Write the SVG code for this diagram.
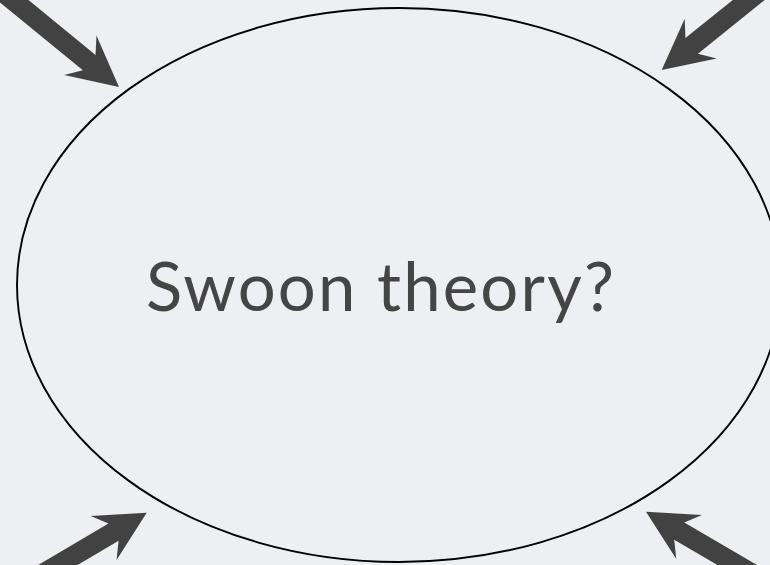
<svg xmlns="http://www.w3.org/2000/svg" xmlns:xlink="http://www.w3.org/1999/xlink" width="770" height="565" viewBox="0 0 770 565">
  <style>
    .arrow { fill: #424242; stroke: none; }
    .bubble { fill: none; stroke: #000000; stroke-width: 1.9; }
    .label { font-family: "Lato", "Open Sans", "Liberation Sans", sans-serif; font-size: 67px; letter-spacing: 2.2px; fill: #454545; }
  </style>
  <defs>
    <path id="fatArrow" d="M0,0 L-50,-25.5 L-38.5,-10 L-160,-10 L-160,10 L-38.5,10 L-50,25.5 Z"/>
  </defs>
  <rect x="0" y="0" width="770" height="565" fill="#eeeff2"/>
  <g id="node-swoon">
    <ellipse class="bubble" cx="399" cy="285" rx="382" ry="277"/>
    <text class="label" x="381" y="311" text-anchor="middle">Swoon theory?</text>
  </g>
  <g id="connectors">
    <use xlink:href="#fatArrow" class="arrow" transform="translate(119,87) rotate(39.3)"/>
    <use xlink:href="#fatArrow" class="arrow" transform="translate(661.7,70) rotate(141.2)"/>
    <use xlink:href="#fatArrow" class="arrow" transform="translate(146.7,512.7) rotate(-30.5)"/>
    <use xlink:href="#fatArrow" class="arrow" transform="translate(646,511.7) rotate(-149.7)"/>
  </g>
</svg>
